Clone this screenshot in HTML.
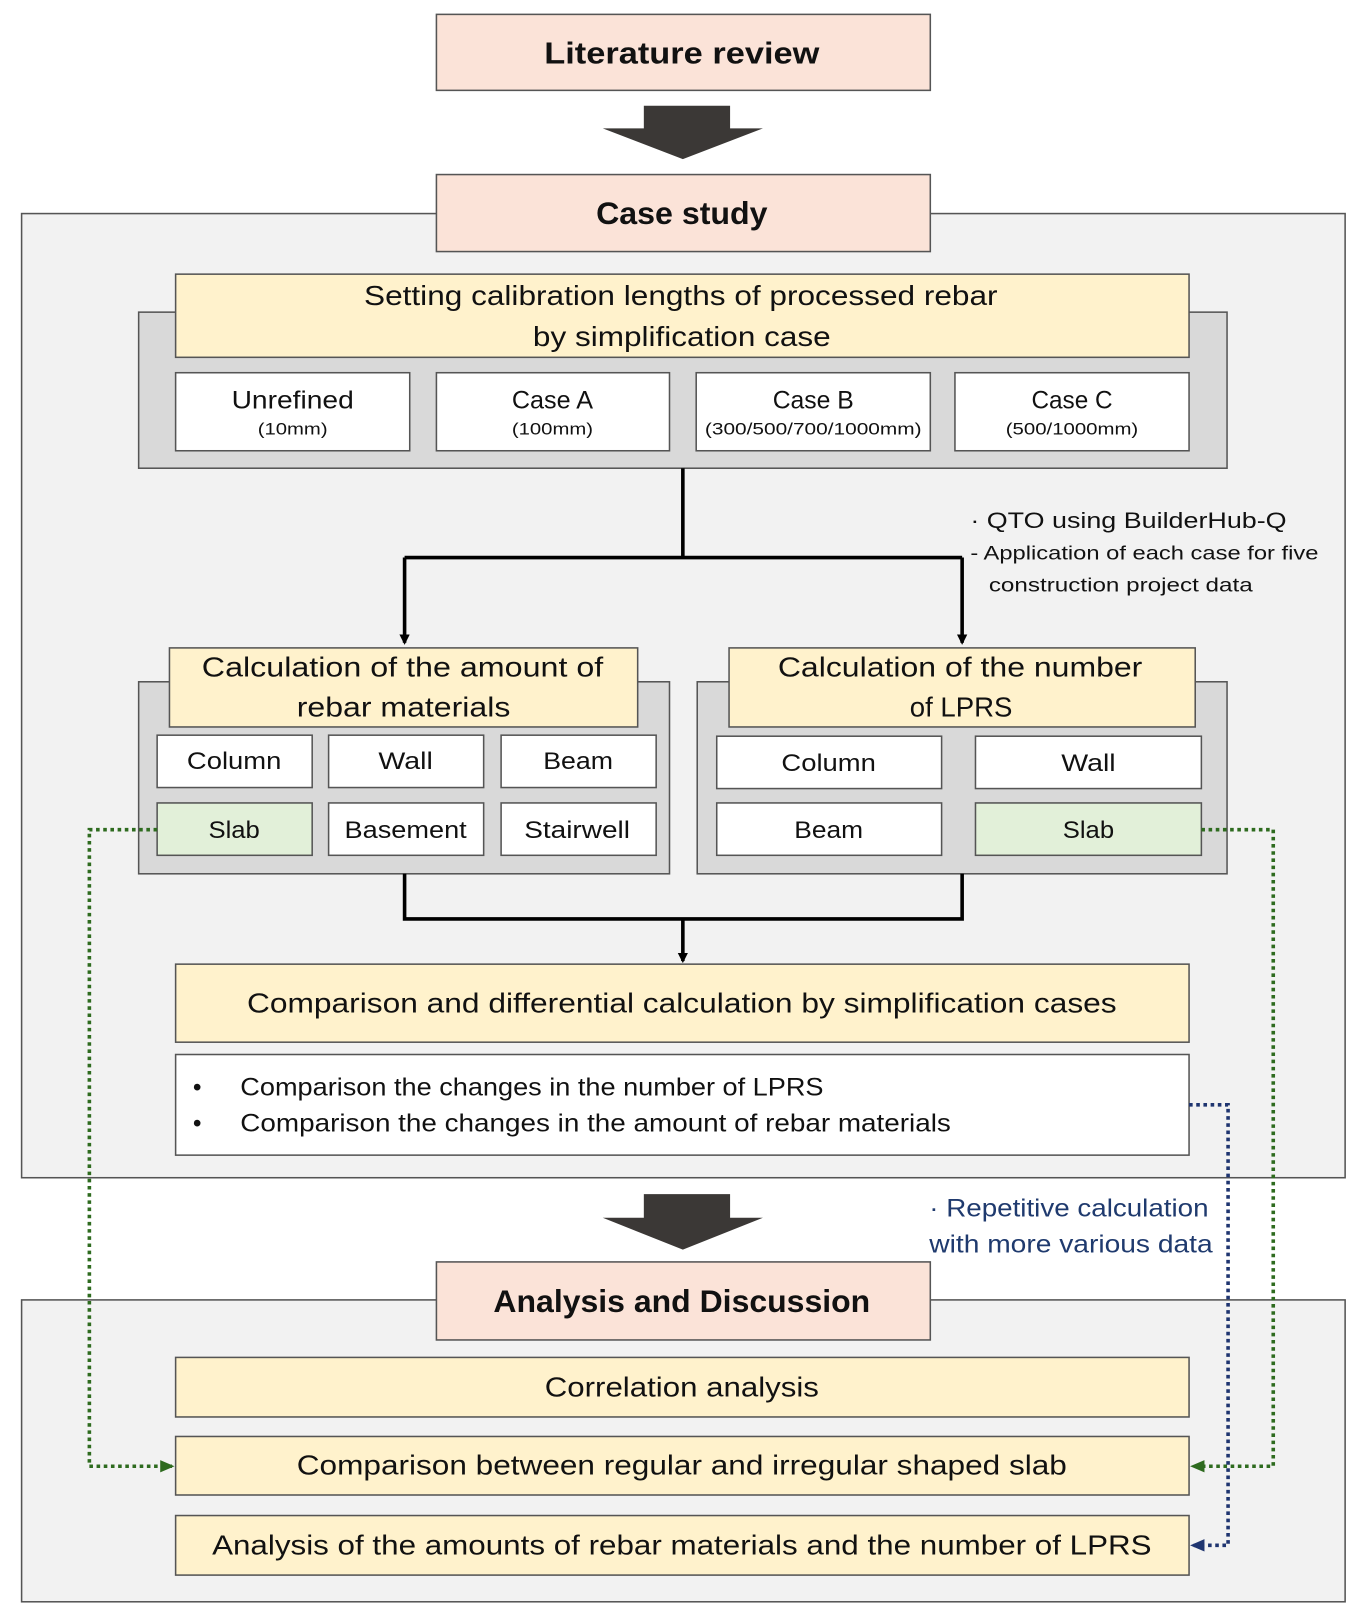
<!DOCTYPE html>
<html><head><meta charset="utf-8"><style>
html,body{margin:0;padding:0;background:#fff}
svg{display:block}
text{font-family:"Liberation Sans",sans-serif;fill:#111;text-anchor:middle}
</style></head><body>
<svg width="1358" height="1610" viewBox="0 0 1322.5 1568" xmlns="http://www.w3.org/2000/svg">
<defs>
<marker id="ab" markerWidth="10" markerHeight="10" refX="8" refY="5" orient="auto" markerUnits="userSpaceOnUse"><path d="M0,0 L10,5 L0,10 z" fill="#000"/></marker>
<marker id="ag" markerWidth="14" markerHeight="12" refX="12" refY="6" orient="auto" markerUnits="userSpaceOnUse"><path d="M0,0 L14,6 L0,12 z" fill="#2e6b1f"/></marker>
<marker id="an" markerWidth="14" markerHeight="12" refX="12" refY="6" orient="auto" markerUnits="userSpaceOnUse"><path d="M0,0 L14,6 L0,12 z" fill="#1f3570"/></marker>
</defs>
<g stroke="#555" stroke-width="1.5">
<rect x="21" y="208" width="1289" height="939" fill="#f2f2f2"/>
<rect x="21" y="1266" width="1289" height="294" fill="#f2f2f2"/>
<rect x="425" y="14" width="481" height="74" fill="#fbe3d8"/>
<rect x="425" y="170" width="481" height="75" fill="#fbe3d8"/>
<rect x="425" y="1229" width="481" height="76" fill="#fbe3d8"/>
<rect x="135" y="304" width="1060" height="152" fill="#d9d9d9"/>
<rect x="171" y="267" width="987" height="81" fill="#fff2cc"/>
<rect x="171" y="363" width="228" height="76" fill="#fff"/>
<rect x="425" y="363" width="227" height="76" fill="#fff"/>
<rect x="678" y="363" width="228" height="76" fill="#fff"/>
<rect x="930" y="363" width="228" height="76" fill="#fff"/>
<rect x="135" y="664" width="517" height="187" fill="#d9d9d9"/>
<rect x="165" y="631" width="456" height="77" fill="#fff2cc"/>
<rect x="153" y="716" width="151" height="51" fill="#fff"/>
<rect x="320" y="716" width="151" height="51" fill="#fff"/>
<rect x="488" y="716" width="151" height="51" fill="#fff"/>
<rect x="153" y="782" width="151" height="51" fill="#e2f0d9"/>
<rect x="320" y="782" width="151" height="51" fill="#fff"/>
<rect x="488" y="782" width="151" height="51" fill="#fff"/>
<rect x="679" y="664" width="516" height="187" fill="#d9d9d9"/>
<rect x="710" y="631" width="454" height="77" fill="#fff2cc"/>
<rect x="698" y="717" width="219" height="51" fill="#fff"/>
<rect x="950" y="717" width="220" height="51" fill="#fff"/>
<rect x="698" y="782" width="219" height="51" fill="#fff"/>
<rect x="950" y="782" width="220" height="51" fill="#e2f0d9"/>
<rect x="171" y="939" width="987" height="76" fill="#fff2cc"/>
<rect x="171" y="1027" width="987" height="98" fill="#fff"/>
<rect x="171" y="1322" width="987" height="58" fill="#fff2cc"/>
<rect x="171" y="1399" width="987" height="57" fill="#fff2cc"/>
<rect x="171" y="1476" width="987" height="58" fill="#fff2cc"/>
</g>
<path d="M627,103 H711 V125 H743 L665,155 L587,125 H627 Z" fill="#3b3836"/>
<path d="M627,1163 H711 V1186 H743 L665,1217 L587,1186 H627 Z" fill="#3b3836"/>
<g stroke="#000" stroke-width="3.5" fill="none">
<path d="M665,456 V543 M394,543 H937"/>
<path d="M394,543 V626" marker-end="url(#ab)"/>
<path d="M937,543 V626" marker-end="url(#ab)"/>
<path d="M394,851 V895 H937 V851"/>
<path d="M665,895 V936" marker-end="url(#ab)"/>
</g>
<g fill="none" stroke-width="3.5" stroke-dasharray="3.5 3.5">
<path d="M153,808 H87 V1428 H168" stroke="#2e6b1f" marker-end="url(#ag)"/>
<path d="M1170,808 H1240 V1428 H1161" stroke="#2e6b1f" marker-end="url(#ag)"/>
<path d="M1158,1076 H1196 V1505 H1161" stroke="#1f3570" marker-end="url(#an)"/>
</g>
<g lengthAdjust="spacingAndGlyphs">
<text x="664" y="62" font-size="30" font-weight="bold" textLength="268" lengthAdjust="spacingAndGlyphs">Literature review</text>
<text x="664" y="218" font-size="31" font-weight="bold" textLength="167" lengthAdjust="spacingAndGlyphs">Case study</text>
<text x="664" y="1278" font-size="31" font-weight="bold" textLength="367" lengthAdjust="spacingAndGlyphs">Analysis and Discussion</text>
<text x="663" y="297" font-size="27" textLength="617" lengthAdjust="spacingAndGlyphs">Setting calibration lengths of processed rebar</text>
<text x="664" y="337" font-size="27" textLength="290" lengthAdjust="spacingAndGlyphs">by simplification case</text>
<text x="285" y="398" font-size="24" textLength="119" lengthAdjust="spacingAndGlyphs">Unrefined</text>
<text x="538" y="398" font-size="24" textLength="79" lengthAdjust="spacingAndGlyphs">Case A</text>
<text x="792" y="398" font-size="24" textLength="79" lengthAdjust="spacingAndGlyphs">Case B</text>
<text x="1044" y="398" font-size="24" textLength="79" lengthAdjust="spacingAndGlyphs">Case C</text>
<text x="285" y="423" font-size="16" textLength="68" lengthAdjust="spacingAndGlyphs">(10mm)</text>
<text x="538" y="423" font-size="16" textLength="79" lengthAdjust="spacingAndGlyphs">(100mm)</text>
<text x="792" y="423" font-size="16" textLength="211" lengthAdjust="spacingAndGlyphs">(300/500/700/1000mm)</text>
<text x="1044" y="423" font-size="16" textLength="129" lengthAdjust="spacingAndGlyphs">(500/1000mm)</text>
<text x="945" y="514" font-size="22" style="text-anchor:start" textLength="308" lengthAdjust="spacingAndGlyphs">· QTO using BuilderHub-Q</text>
<text x="945" y="545" font-size="19" style="text-anchor:start" textLength="339" lengthAdjust="spacingAndGlyphs">- Application of each case for five</text>
<text x="963" y="576" font-size="19" style="text-anchor:start" textLength="257" lengthAdjust="spacingAndGlyphs">construction project data</text>
<text x="392" y="659" font-size="27" textLength="391" lengthAdjust="spacingAndGlyphs">Calculation of the amount of</text>
<text x="393" y="698" font-size="27" textLength="208" lengthAdjust="spacingAndGlyphs">rebar materials</text>
<text x="935" y="659" font-size="27" textLength="355" lengthAdjust="spacingAndGlyphs">Calculation of the number</text>
<text x="936" y="698" font-size="27" textLength="100" lengthAdjust="spacingAndGlyphs">of LPRS</text>
<text x="228" y="749" font-size="23" textLength="92" lengthAdjust="spacingAndGlyphs">Column</text>
<text x="395" y="749" font-size="23" textLength="53" lengthAdjust="spacingAndGlyphs">Wall</text>
<text x="563" y="749" font-size="23" textLength="68" lengthAdjust="spacingAndGlyphs">Beam</text>
<text x="228" y="816" font-size="23" textLength="50" lengthAdjust="spacingAndGlyphs">Slab</text>
<text x="395" y="816" font-size="23" textLength="119" lengthAdjust="spacingAndGlyphs">Basement</text>
<text x="562" y="816" font-size="23" textLength="103" lengthAdjust="spacingAndGlyphs">Stairwell</text>
<text x="807" y="751" font-size="23" textLength="92" lengthAdjust="spacingAndGlyphs">Column</text>
<text x="1060" y="751" font-size="23" textLength="53" lengthAdjust="spacingAndGlyphs">Wall</text>
<text x="807" y="816" font-size="23" textLength="67" lengthAdjust="spacingAndGlyphs">Beam</text>
<text x="1060" y="816" font-size="23" textLength="50" lengthAdjust="spacingAndGlyphs">Slab</text>
<text x="664" y="986" font-size="27" textLength="847" lengthAdjust="spacingAndGlyphs">Comparison and differential calculation by simplification cases</text>
<text x="192" y="1067" font-size="24">•</text><text x="192" y="1102" font-size="24">•</text>
<text x="234" y="1067" font-size="24" style="text-anchor:start" textLength="568" lengthAdjust="spacingAndGlyphs">Comparison the changes in the number of LPRS</text>
<text x="234" y="1102" font-size="24" style="text-anchor:start" textLength="692" lengthAdjust="spacingAndGlyphs">Comparison the changes in the amount of rebar materials</text>
<text x="905" y="1185" font-size="24" style="text-anchor:start;fill:#1f3a6e" textLength="272" lengthAdjust="spacingAndGlyphs">· Repetitive calculation</text>
<text x="905" y="1220" font-size="24" style="text-anchor:start;fill:#1f3a6e" textLength="276" lengthAdjust="spacingAndGlyphs">with more various data</text>
<text x="664" y="1360" font-size="27" textLength="267" lengthAdjust="spacingAndGlyphs">Correlation analysis</text>
<text x="664" y="1436" font-size="27" textLength="750" lengthAdjust="spacingAndGlyphs">Comparison between regular and irregular shaped slab</text>
<text x="664" y="1514" font-size="27" textLength="915" lengthAdjust="spacingAndGlyphs">Analysis of the amounts of rebar materials and the number of LPRS</text>
</g>
</svg>
</body></html>
